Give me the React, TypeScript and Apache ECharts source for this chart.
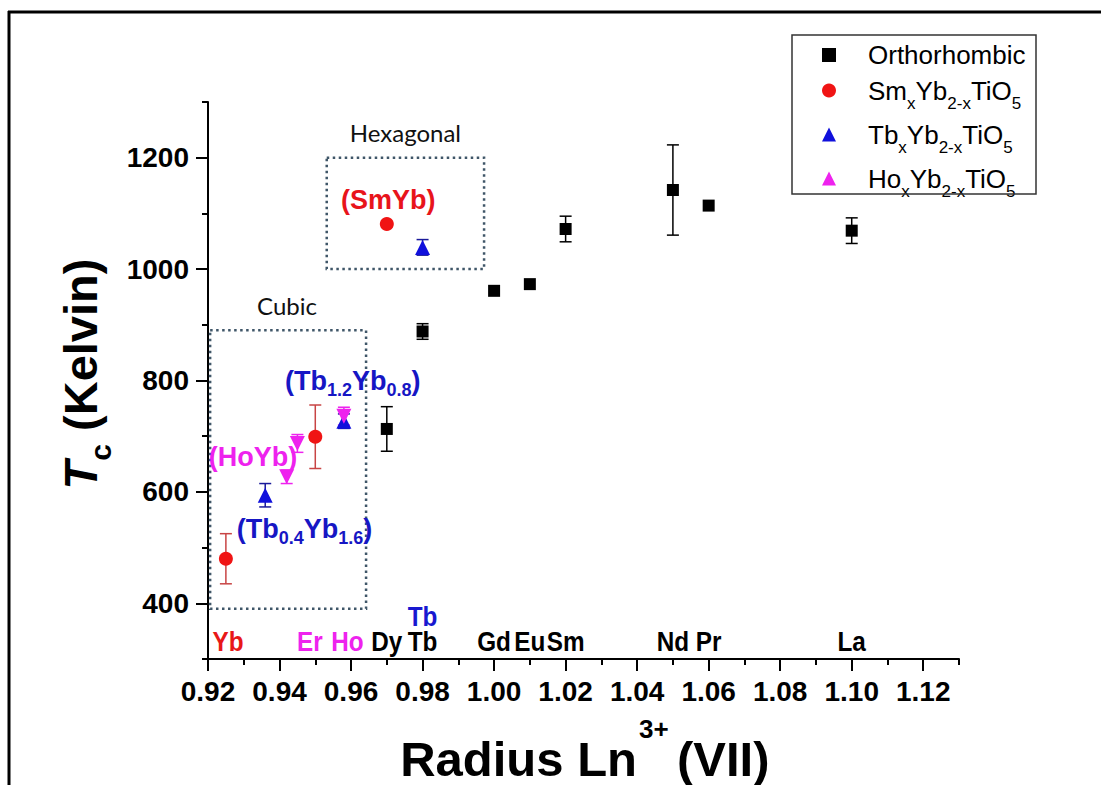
import React, { useEffect, useRef } from 'react';
import * as echarts from 'echarts';

// ---- data ----
const orthoX = [0.97, 0.98, 1.0, 1.01, 1.02, 1.05, 1.06, 1.1];
const orthoY = [713, 888, 961, 973, 1072, 1142, 1114, 1069];
const orthoErr = [40, 14, 0, 0, 23, 81, 0, 23];

const smX = [0.925, 0.95, 0.97];
const smY = [480, 699, 1081];
const smErr = [45, 57, 0];

const tbX = [0.936, 0.958, 0.98];
const tbY = [594, 727, 1039];
const tbErr = [21, 13, 14];

const hoX = [0.942, 0.945, 0.958];
const hoY = [627, 687, 736];
const hoErr = [12, 16, 16];

const xMajorTicks = [0.92, 0.94, 0.96, 0.98, 1.0, 1.02, 1.04, 1.06, 1.08, 1.1, 1.12];
const yMajorTicks = [400, 600, 800, 1000, 1200];

const elementNames = ['Yb', 'Er', 'Ho', 'Dy', 'Tb', 'Gd', 'Eu', 'Sm', 'Nd', 'Pr', 'La'];
const elementRadii = [0.9256, 0.9485, 0.959, 0.97, 0.98, 1.0, 1.01, 1.02, 1.05, 1.06, 1.1];

const seriesNames = ['Orthorhombic', 'SmxYb2-xTiO5', 'TbxYb2-xTiO5', 'HoxYb2-xTiO5'];

// ---- styles / annotation anchors (data coordinates) ----
const FONT = '"Liberation Sans", Arial, Helvetica, sans-serif';
const RED = '#f01414';
const BLUE = '#1010dc';
const MAGENTA = '#ee22ee';
const elementColor: Record<string, string> = { Yb: '#e81818', Er: MAGENTA, Ho: MAGENTA };
const elementLabelY = 331;
const blueTbLabelY = 377;
const cubicBox = { x0: 0.9206, x1: 0.9642, y0: 390, y1: 890 };
const hexBox = { x0: 0.9532, x1: 0.9972, y0: 1000, y1: 1200 };

const legendRich: Record<string, string> = {
  Orthorhombic: '{o|Orthorhombic}',
  'SmxYb2-xTiO5': '{a0|Sm}{s|x}{a|Yb}{s|2-x}{a|TiO}{s|5}',
  'TbxYb2-xTiO5': '{a0|Tb}{s|x}{a|Yb}{s|2-x}{a|TiO}{s|5}',
  'HoxYb2-xTiO5': '{a0|Ho}{s|x}{a|Yb}{s|2-x}{a|TiO}{s|5}',
};

function errorBars(name: string, xs: number[], ys: number[], errs: number[], color: string) {
  return {
    type: 'custom',
    name: name + ' error',
    silent: true,
    z: 1,
    data: xs.map((x, i) => [x, ys[i], errs[i]]),
    encode: { x: 0, y: 1 },
    renderItem: (params: any, api: any) => {
      const x = api.value(0);
      const y = api.value(1);
      const e = api.value(2);
      if (!e) return { type: 'group', children: [] };
      const p1 = api.coord([x, y + e]);
      const p2 = api.coord([x, y - e]);
      const hw = 6;
      const style = { stroke: color, lineWidth: 1.5 };
      return {
        type: 'group',
        children: [
          { type: 'line', shape: { x1: p1[0], y1: p1[1], x2: p2[0], y2: p2[1] }, style },
          { type: 'line', shape: { x1: p1[0] - hw, y1: p1[1], x2: p1[0] + hw, y2: p1[1] }, style },
          { type: 'line', shape: { x1: p2[0] - hw, y1: p2[1], x2: p2[0] + hw, y2: p2[1] }, style },
        ],
      };
    },
  };
}

function pts(xs: number[], ys: number[]) {
  return xs.map((x, i) => [x, ys[i]]);
}

export default function App() {
  const ref = useRef<HTMLDivElement>(null);
  useEffect(() => {
    const el = ref.current;
    if (!el) return;
    const chart = echarts.init(el, null, { renderer: 'svg' });
    const axisLineStyle = { color: '#000', width: 2 };
    const option: any = {
      animation: false,
      backgroundColor: '#fff',
      grid: { left: 208, right: 142, top: 102, bottom: 126 },
      xAxis: [
        {
          type: 'value', min: 0.92, max: 1.13, interval: 0.01, position: 'bottom',
          axisLine: { show: true, lineStyle: axisLineStyle },
          axisTick: { show: true, length: 6, lineStyle: { color: '#000', width: 2 } },
          axisLabel: { show: false },
          splitLine: { show: false },
        },
        {
          type: 'value', min: 0.92, max: 1.13, interval: 0.02, position: 'bottom',
          axisLine: { show: false },
          axisTick: { show: true, length: 12, customValues: xMajorTicks, lineStyle: { color: '#000', width: 2 } },
          axisLabel: {
            show: true, customValues: xMajorTicks, margin: 18,
            formatter: (v: number) => v.toFixed(2),
            fontSize: 28, fontWeight: 'bold', fontFamily: FONT, color: '#000',
          },
          splitLine: { show: false },
        },
      ],
      yAxis: [
        {
          type: 'value', min: 300, max: 1300, interval: 100, position: 'left',
          axisLine: { show: true, lineStyle: axisLineStyle },
          axisTick: { show: true, length: 6, lineStyle: { color: '#000', width: 2 } },
          axisLabel: { show: false },
          splitLine: { show: false },
        },
        {
          type: 'value', min: 300, max: 1300, interval: 100, position: 'left',
          axisLine: { show: false },
          axisTick: { show: true, length: 12, customValues: yMajorTicks, lineStyle: { color: '#000', width: 2 } },
          axisLabel: {
            show: true, customValues: yMajorTicks, margin: 19,
            formatter: (v: number) => String(v),
            fontSize: 28, fontWeight: 'bold', fontFamily: FONT, color: '#000',
          },
          splitLine: { show: false },
        },
      ],
      legend: {
        data: seriesNames,
        orient: 'vertical',
        left: 822,
        top: 42,
        padding: 0,
        itemWidth: 14,
        itemHeight: 14,
        itemGap: 1,
        formatter: (name: string) => legendRich[name] || name,
        textStyle: {
          fontSize: 26, fontFamily: FONT, color: '#000',
          rich: {
            o: { fontSize: 26, fontFamily: FONT, lineHeight: 27, padding: [0, 0, 0, 27], verticalAlign: 'middle' },
            a0: { fontSize: 26, fontFamily: FONT, lineHeight: 38, padding: [0, 0, 0, 27], verticalAlign: 'middle' },
            a: { fontSize: 26, fontFamily: FONT, lineHeight: 38, verticalAlign: 'middle' },
            s: { fontSize: 17, fontFamily: FONT, lineHeight: 10, padding: [26, 0, 0, 0], verticalAlign: 'middle' },
          },
        },
      },
      series: [
        errorBars('Orthorhombic', orthoX, orthoY, orthoErr, '#000'),
        errorBars('Sm', smX, smY, smErr, '#c84444'),
        errorBars('Tb', tbX, tbY, tbErr, '#1a1a9a'),
        errorBars('Ho', hoX, hoY, hoErr, MAGENTA),
        {
          type: 'scatter', name: seriesNames[0], data: pts(orthoX, orthoY), z: 3,
          symbol: 'rect', symbolSize: 12, itemStyle: { color: '#000', opacity: 1 },
        },
        {
          type: 'scatter', name: seriesNames[1], data: pts(smX, smY), z: 3,
          symbol: 'circle', symbolSize: 14, itemStyle: { color: RED, opacity: 1 },
        },
        {
          type: 'scatter', name: seriesNames[2], data: pts(tbX, tbY), z: 3,
          symbol: 'triangle', symbolSize: 15, itemStyle: { color: BLUE, opacity: 1 },
        },
        {
          type: 'scatter', name: seriesNames[3], data: pts(hoX, hoY), z: 3,
          symbol: 'triangle', symbolRotate: 180, symbolSize: 15, itemStyle: { color: MAGENTA, opacity: 1 },
        },
      ],
    };
    chart.setOption(option);

    const toPx = (x: number, y: number) =>
      chart.convertToPixel({ xAxisIndex: 0, yAxisIndex: 0 }, [x, y]) as number[];

    const boxRect = (b: { x0: number; x1: number; y0: number; y1: number }) => {
      const p0 = toPx(b.x0, b.y1);
      const p1 = toPx(b.x1, b.y0);
      return {
        type: 'rect', z: 5,
        shape: { x: p0[0], y: p0[1], width: p1[0] - p0[0], height: p1[1] - p0[1] },
        style: { fill: 'none', stroke: '#3f5668', lineWidth: 2.5, lineDash: [2.5, 3.5] },
      };
    };

    const annoText = (x: number, y: number, text: string, color: string, align: string, rich?: any) => {
      const p = toPx(x, y);
      return {
        type: 'text', z: 10, x: p[0], y: p[1],
        style: {
          text, fill: color, align, verticalAlign: 'middle',
          fontSize: 27, fontWeight: 'bold', fontFamily: FONT,
          rich,
        },
      };
    };

    const subRich = {
      m: { fontSize: 27, fontWeight: 'bold', fontFamily: FONT, lineHeight: 30, verticalAlign: 'middle' },
      s: { fontSize: 18, fontWeight: 'bold', fontFamily: FONT, lineHeight: 10, padding: [18, 0, 0, 0], verticalAlign: 'middle' },
    };

    const graphics: any[] = [
      // frame
      { type: 'line', z: 20, shape: { x1: 8, y1: 12, x2: 1101, y2: 12 }, style: { stroke: '#000', lineWidth: 3 } },
      { type: 'line', z: 20, shape: { x1: 9, y1: 11, x2: 9, y2: 785 }, style: { stroke: '#000', lineWidth: 3 } },
      // legend frame
      { type: 'rect', z: 5, shape: { x: 792, y: 35, width: 244, height: 159 }, style: { fill: 'none', stroke: '#333', lineWidth: 1.5 } },
      // phase boxes
      boxRect(cubicBox),
      boxRect(hexBox),
      // phase labels
      (() => {
        const p = toPx(0.9421, 934);
        return { type: 'text', z: 10, x: p[0], y: p[1], style: { text: 'Cubic', fill: '#111', align: 'center', verticalAlign: 'middle', fontSize: 24, fontFamily: 'Lato, "Open Sans", sans-serif' } };
      })(),
      (() => {
        const p = toPx(0.9752, 1246);
        return { type: 'text', z: 10, x: p[0], y: p[1], style: { text: 'Hexagonal', fill: '#111', align: 'center', verticalAlign: 'middle', fontSize: 24, fontFamily: 'Lato, "Open Sans", sans-serif' } };
      })(),
      // compound annotations
      annoText(0.9704, 1124, '(SmYb)', '#e8141b', 'center'),
      annoText(0.93259, 663, '(HoYb)', MAGENTA, 'center'),
      annoText(0.94154, 799, '{m|(Tb}{s|1.2}{m|Yb}{s|0.8}{m|)}', '#1616c4', 'left', subRich),
      annoText(0.92803, 533, '{m|(Tb}{s|0.4}{m|Yb}{s|1.6}{m|)}', '#1616c4', 'left', subRich),
      // blue Tb above element row
      (() => {
        const p = toPx(0.98, blueTbLabelY);
        return { type: 'text', z: 10, x: p[0], y: p[1], scaleX: 0.9, style: { text: 'Tb', fill: '#1818d0', align: 'center', verticalAlign: 'middle', fontSize: 27, fontWeight: 'bold', fontFamily: FONT } };
      })(),
      // x axis title (pieces)
      {
        type: 'text', z: 10, x: 637, y: 759,
        style: { text: 'Radius Ln', fill: '#000', align: 'right', verticalAlign: 'middle', fontSize: 49, fontWeight: 'bold', fontFamily: FONT },
      },
      {
        type: 'text', z: 10, x: 639, y: 729,
        style: { text: '3+', fill: '#000', align: 'left', verticalAlign: 'middle', fontSize: 26, fontWeight: 'bold', fontFamily: FONT },
      },
      {
        type: 'text', z: 10, x: 677, y: 759,
        style: { text: '(VII)', fill: '#000', align: 'left', verticalAlign: 'middle', fontSize: 49, fontWeight: 'bold', fontFamily: FONT },
      },
      // y axis title
      {
        type: 'text', z: 10, x: 80, y: 374, rotation: Math.PI / 2,
        style: {
          text: '{t|T}{s|c}{n| (Kelvin)}', fill: '#000', align: 'center', verticalAlign: 'middle',
          rich: {
            t: { fontSize: 47, fontWeight: 'bold', fontStyle: 'italic', fontFamily: FONT, lineHeight: 48, verticalAlign: 'middle' },
            s: { fontSize: 30, fontWeight: 'bold', fontFamily: FONT, lineHeight: 10, padding: [40, 0, 0, 0], verticalAlign: 'middle' },
            n: { fontSize: 47, fontWeight: 'bold', fontFamily: FONT, lineHeight: 48, verticalAlign: 'middle' },
          },
        },
      },
    ];

    elementNames.forEach((name, i) => {
      const p = toPx(elementRadii[i], elementLabelY);
      graphics.push({
        type: 'text', z: 10, x: p[0], y: p[1], scaleX: 0.9,
        style: {
          text: name, fill: elementColor[name] || '#000', align: 'center', verticalAlign: 'middle',
          fontSize: 27, fontWeight: 'bold', fontFamily: FONT,
        },
      });
    });

    chart.setOption({ graphic: graphics });
    return () => chart.dispose();
  }, []);

  return (
    <div
      ref={ref}
      style={{ position: 'absolute', left: 0, top: 0, width: 1101, height: 785, background: '#fff' }}
    />
  );
}
